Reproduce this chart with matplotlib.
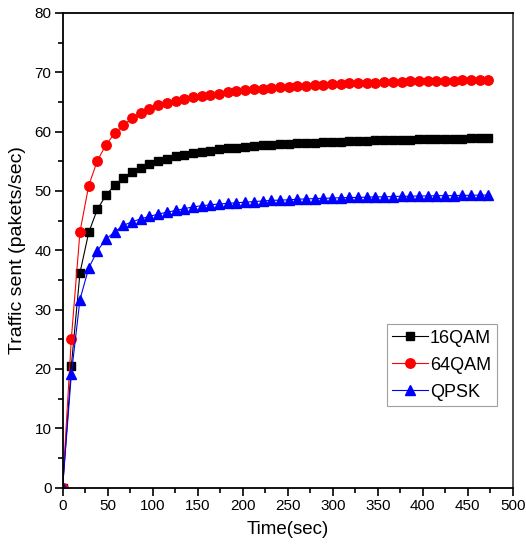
import numpy as np
import matplotlib
matplotlib.use('Agg')
import matplotlib.pyplot as plt
from matplotlib.ticker import MultipleLocator

plt.rcParams['font.family'] = ['Liberation Sans', 'DejaVu Sans']
plt.rcParams['figure.dpi'] = 100

# sample times (sec)
time_sec = [0, 9.7, 19.3, 29.0, 38.6, 48.3, 57.9, 67.6, 77.2, 86.9,
            96.5, 106.2, 115.8, 125.5, 135.1, 144.8, 154.4, 164.1, 173.7, 183.4,
            193.0, 202.7, 212.3, 222.0, 231.6, 241.3, 250.9, 260.6, 270.2, 279.9,
            289.5, 299.2, 308.8, 318.5, 328.1, 337.8, 347.4, 357.1, 366.7, 376.4,
            386.0, 395.7, 405.3, 415.0, 424.6, 434.3, 443.9, 453.6, 463.2, 472.9]

qam16 = [0, 20.5, 36.2, 43.0, 46.9, 49.3, 51.0, 52.2, 53.2, 53.9,
         54.6, 55.1, 55.4, 55.8, 56.1, 56.4, 56.6, 56.8, 57.0, 57.15,
         57.3, 57.45, 57.55, 57.65, 57.75, 57.85, 57.95, 58.0, 58.1, 58.15,
         58.2, 58.25, 58.3, 58.35, 58.4, 58.45, 58.5, 58.55, 58.6, 58.6,
         58.65, 58.7, 58.7, 58.75, 58.75, 58.8, 58.8, 58.85, 58.85, 58.9]

qam64 = [0, 25.1, 43.1, 50.9, 55.1, 57.8, 59.7, 61.1, 62.2, 63.1,
         63.8, 64.4, 64.8, 65.2, 65.5, 65.8, 66.0, 66.2, 66.4, 66.6,
         66.8, 66.95, 67.1, 67.2, 67.35, 67.45, 67.55, 67.65, 67.75, 67.85,
         67.9, 68.0, 68.05, 68.1, 68.15, 68.2, 68.25, 68.3, 68.35, 68.4,
         68.45, 68.5, 68.5, 68.55, 68.6, 68.6, 68.65, 68.65, 68.7, 68.7]

qpsk = [0, 19.1, 31.7, 37.0, 39.9, 41.9, 43.1, 44.2, 44.8, 45.3,
        45.7, 46.1, 46.4, 46.7, 47.0, 47.3, 47.5, 47.65, 47.8, 47.9,
        48.0, 48.1, 48.2, 48.3, 48.4, 48.45, 48.5, 48.6, 48.65, 48.7,
        48.75, 48.8, 48.85, 48.9, 48.9, 48.95, 49.0, 49.0, 49.05, 49.1,
        49.1, 49.15, 49.15, 49.2, 49.2, 49.2, 49.25, 49.25, 49.3, 49.3]

fig = plt.figure(figsize=(5.26, 5.58))
ax = fig.add_axes([0.119, 0.126, 0.856, 0.851])

ax.plot(time_sec, qam16, color='black', lw=0.8, marker='s', ms=6,
        label='16QAM')
ax.plot(time_sec, qam64, color='red', lw=0.8, marker='o', ms=6.8,
        label='64QAM')
ax.plot(time_sec, qpsk, color='blue', lw=0.8, marker='^', ms=6.8,
        label='QPSK')

ax.set_xlim(0, 500)
ax.set_ylim(0, 80)
ax.xaxis.set_major_locator(MultipleLocator(50))
ax.xaxis.set_minor_locator(MultipleLocator(25))
ax.yaxis.set_major_locator(MultipleLocator(10))
ax.yaxis.set_minor_locator(MultipleLocator(5))
ax.tick_params(which='both', direction='out', top=False, right=False,
               width=1.2, labelsize=11, pad=2)
ax.tick_params(which='major', length=6)
ax.tick_params(which='minor', length=3.5)
for s in ax.spines.values():
    s.set_linewidth(1.3)
ax.spines['right'].set_color('#444444')

ax.set_xlabel('Time(sec)', fontsize=13.5, labelpad=6)
ax.set_ylabel('Traffic sent (pakets/sec)', fontsize=14, labelpad=6)

leg = ax.legend(loc='lower left', bbox_to_anchor=(0.72, 0.172), fontsize=13,
                frameon=True, fancybox=False, borderpad=0.3,
                handlelength=2.0, handletextpad=0.1, labelspacing=0.55,
                borderaxespad=0)
leg.get_frame().set_edgecolor('#888888')
leg.get_frame().set_linewidth(0.8)

fig.savefig('out.png', dpi=100)
